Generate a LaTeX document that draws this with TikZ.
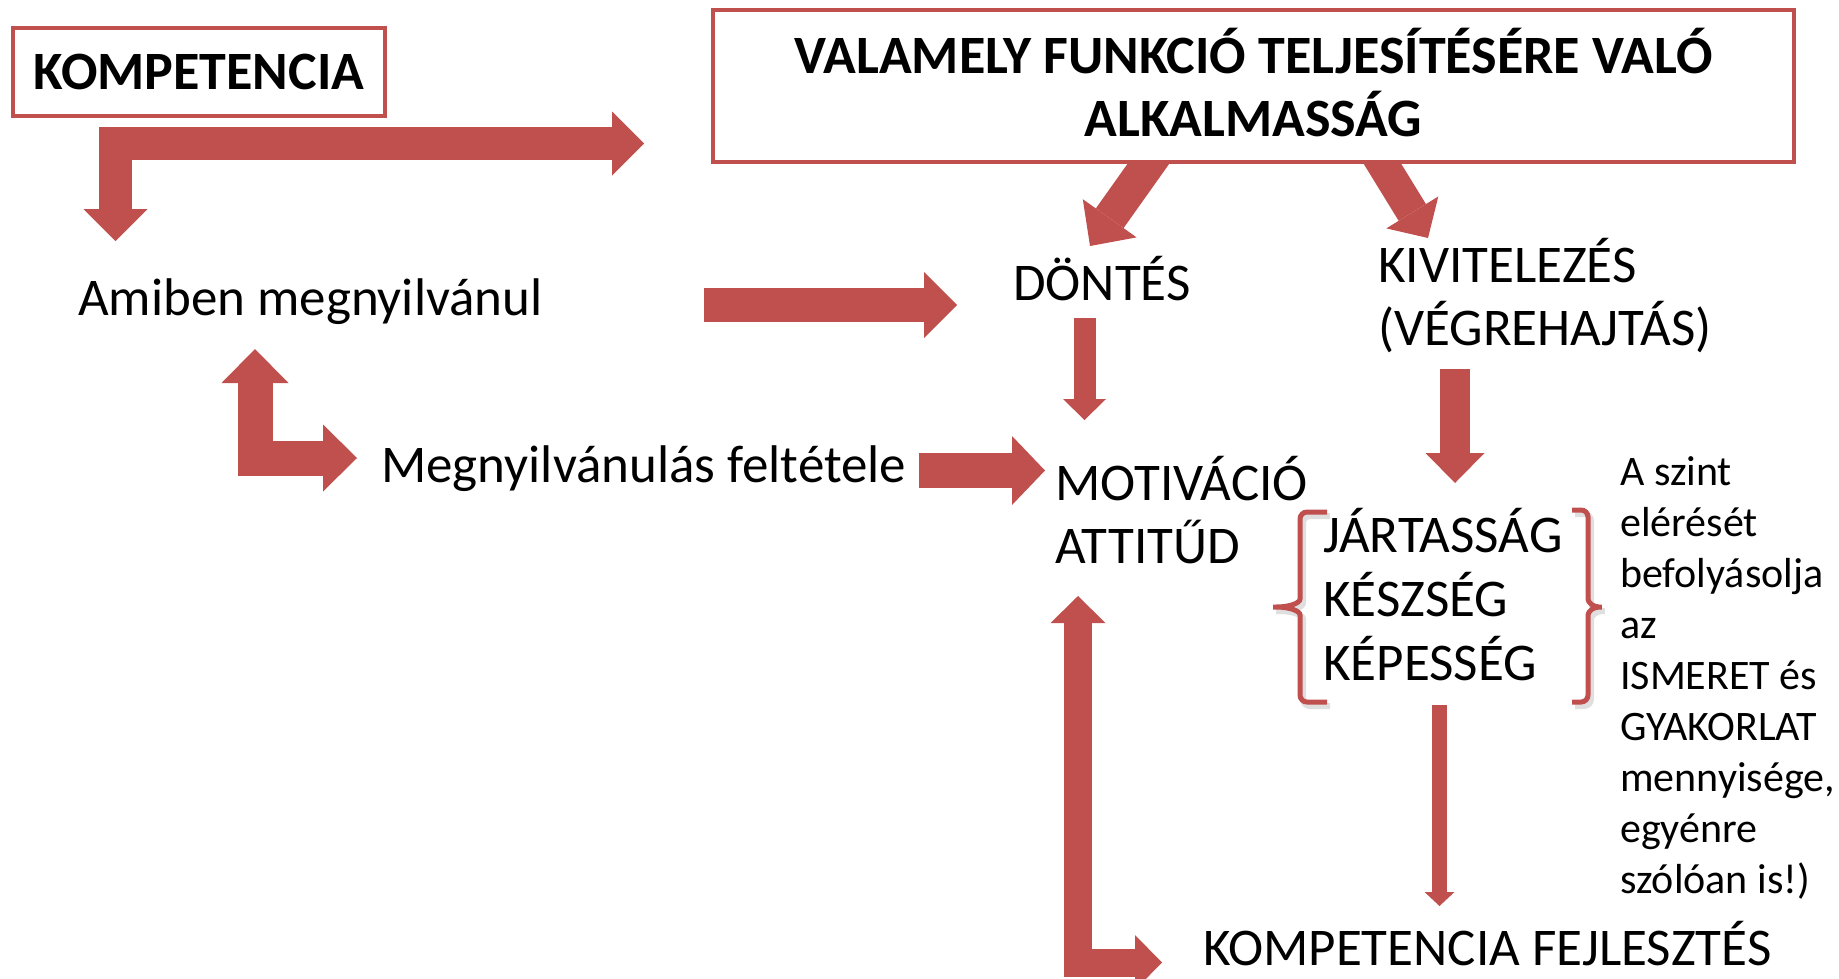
\documentclass[tikz,border=0pt]{standalone}
\usepackage{fontspec}
\setmainfont{Carlito}
\usetikzlibrary{arrows.meta,backgrounds}

\definecolor{cc0504d}{RGB}{192,80,77}
\definecolor{cbfbfbf}{RGB}{191,191,191}

\tikzset{
  redbox/.style={draw=cc0504d, line width=4pt, fill=white, inner sep=0pt,
    font=\bfseries\fontsize{54}{63}\selectfont},
  txt/.style={inner sep=0pt, anchor=base west, align=left,
    font=\fontsize{53}{63}\selectfont},
  smalltxt/.style={txt, font=\fontsize{42}{51}\selectfont},
  blk/.style n args={3}{draw=cc0504d, line width=#1,
    -{Triangle[width=#2, length=#3, line width=0pt]}},
  blkboth/.style n args={3}{draw=cc0504d, line width=#1,
    {Triangle[width=#2, length=#3, line width=0pt]}-{Triangle[width=#2, length=#3, line width=0pt]}},
  bracket/.style={draw=cc0504d, line width=5pt, rounded corners=7pt},
  bracketshadow/.style={draw=cbfbfbf, line width=6pt, rounded corners=7pt, opacity=0.5},
}

\begin{document}
\begin{tikzpicture}[x=1pt, y=1pt, yscale=-1]
\useasboundingbox (0,0) rectangle (1839,978);

% boxes
\node[redbox, minimum width=372pt, minimum height=88pt] (komp) at (199,72) {KOMPETENCIA};
\node[redbox, minimum width=1081pt, minimum height=152pt, align=center, text depth=7pt] (funkcio) at (1253.5,86)
  {VALAMELY FUNKCIÓ TELJESÍTÉSÉRE VALÓ\\ALKALMASSÁG};

% texts (multi-line ones sit on their last baseline)
\node[txt] (amiben) at (78,315) {Amiben megnyilvánul};
\node[txt] (dontes) at (1013,300) {DÖNTÉS};
\node[txt] (kivit) at (1378,345) {KIVITELEZÉS\\(VÉGREHAJTÁS)};
\node[txt] (megny) at (381,482) {Megnyilvánulás feltétele};
\node[txt] (motiv) at (1055,563) {MOTIVÁCIÓ\\ATTITŰD};
\node[txt, font=\fontsize{53}{64}\selectfont] (jartas) at (1323,680) {JÁRTASSÁG\\KÉSZSÉG\\KÉPESSÉG};
\node[smalltxt] (szint) at (1620,893) {A szint\\elérését\\befolyásolja\\az\\ISMERET és\\GYAKORLAT\\mennyisége,\\egyénre\\szólóan is!)};
\node[txt] (fejl) at (1203,965) {KOMPETENCIA FEJLESZTÉS};

% arrow ends
\coordinate (kompDown) at (115.5,241);
\coordinate (kompRight) at (644,143.5);
\coordinate (amibenOut) at (704,305);
\coordinate (dontesIn) at (957,305);
\coordinate (funkcioL) at (1161,146);
\coordinate (dontesTop) at (1090,246);
\coordinate (funkcioR) at (1371.5,146);
\coordinate (kivitTop) at (1428,238);
\coordinate (dontesOut) at (1084.5,318);
\coordinate (motivTop) at (1084.5,420);
\coordinate (kivitOut) at (1455,369);
\coordinate (jartasTop) at (1455,483);
\coordinate (amibenUp) at (255,349);
\coordinate (megnyIn) at (357,458);
\coordinate (megnyOut) at (919,470.5);
\coordinate (motivIn) at (1045,470.5);
\coordinate (motivUp) at (1078,596);
\coordinate (fejlIn) at (1162,962.5);
\coordinate (jartasOut) at (1439.5,705);
\coordinate (fejlTop) at (1439.5,906);

% arrows
\begin{scope}[on background layer]
  \draw[blk={34pt}{66pt}{34pt}] (funkcioL) -- (dontesTop);
  \draw[blk={32pt}{61pt}{30pt}] (funkcioR) -- (kivitTop);
\end{scope}
\draw[blkboth={33pt}{64pt}{32pt}] (kompDown) |- (kompRight);
\draw[blk={34pt}{66pt}{33pt}] (amibenOut) -- (dontesIn);
\draw[blk={22pt}{43pt}{21pt}] (dontesOut) -- (motivTop);
\draw[blk={30pt}{59pt}{30pt}] (kivitOut) -- (jartasTop);
\draw[blkboth={35pt}{67pt}{34pt}] (amibenUp) |- (megnyIn);
\draw[blk={35pt}{69pt}{33pt}] (megnyOut) -- (motivIn);
\draw[blkboth={28pt}{55pt}{27pt}] (motivUp) |- (fejlIn);
\draw[blk={15pt}{30pt}{14pt}] (jartasOut) -- (fejlTop);

% brackets
\begin{scope}[shift={(3,4)}]
  \draw[bracketshadow] (1327,512) -- (1300,512) -- (1300,592)
    .. controls (1300,603) and (1290,607) .. (1269,607)
    .. controls (1290,607) and (1300,611) .. (1300,622) -- (1300,702) -- (1327,702);
  \draw[bracketshadow] (1572,510) -- (1588,510) -- (1588,592)
    .. controls (1588,603) and (1594,607) .. (1606,607)
    .. controls (1594,607) and (1588,611) .. (1588,622) -- (1588,702) -- (1572,702);
\end{scope}
\draw[bracket] (1327,512) -- (1300,512) -- (1300,592)
  .. controls (1300,603) and (1290,607) .. (1269,607)
  .. controls (1290,607) and (1300,611) .. (1300,622) -- (1300,702) -- (1327,702);
\draw[bracket] (1572,510) -- (1588,510) -- (1588,592)
  .. controls (1588,603) and (1594,607) .. (1606,607)
  .. controls (1594,607) and (1588,611) .. (1588,622) -- (1588,702) -- (1572,702);

\end{tikzpicture}
\end{document}
